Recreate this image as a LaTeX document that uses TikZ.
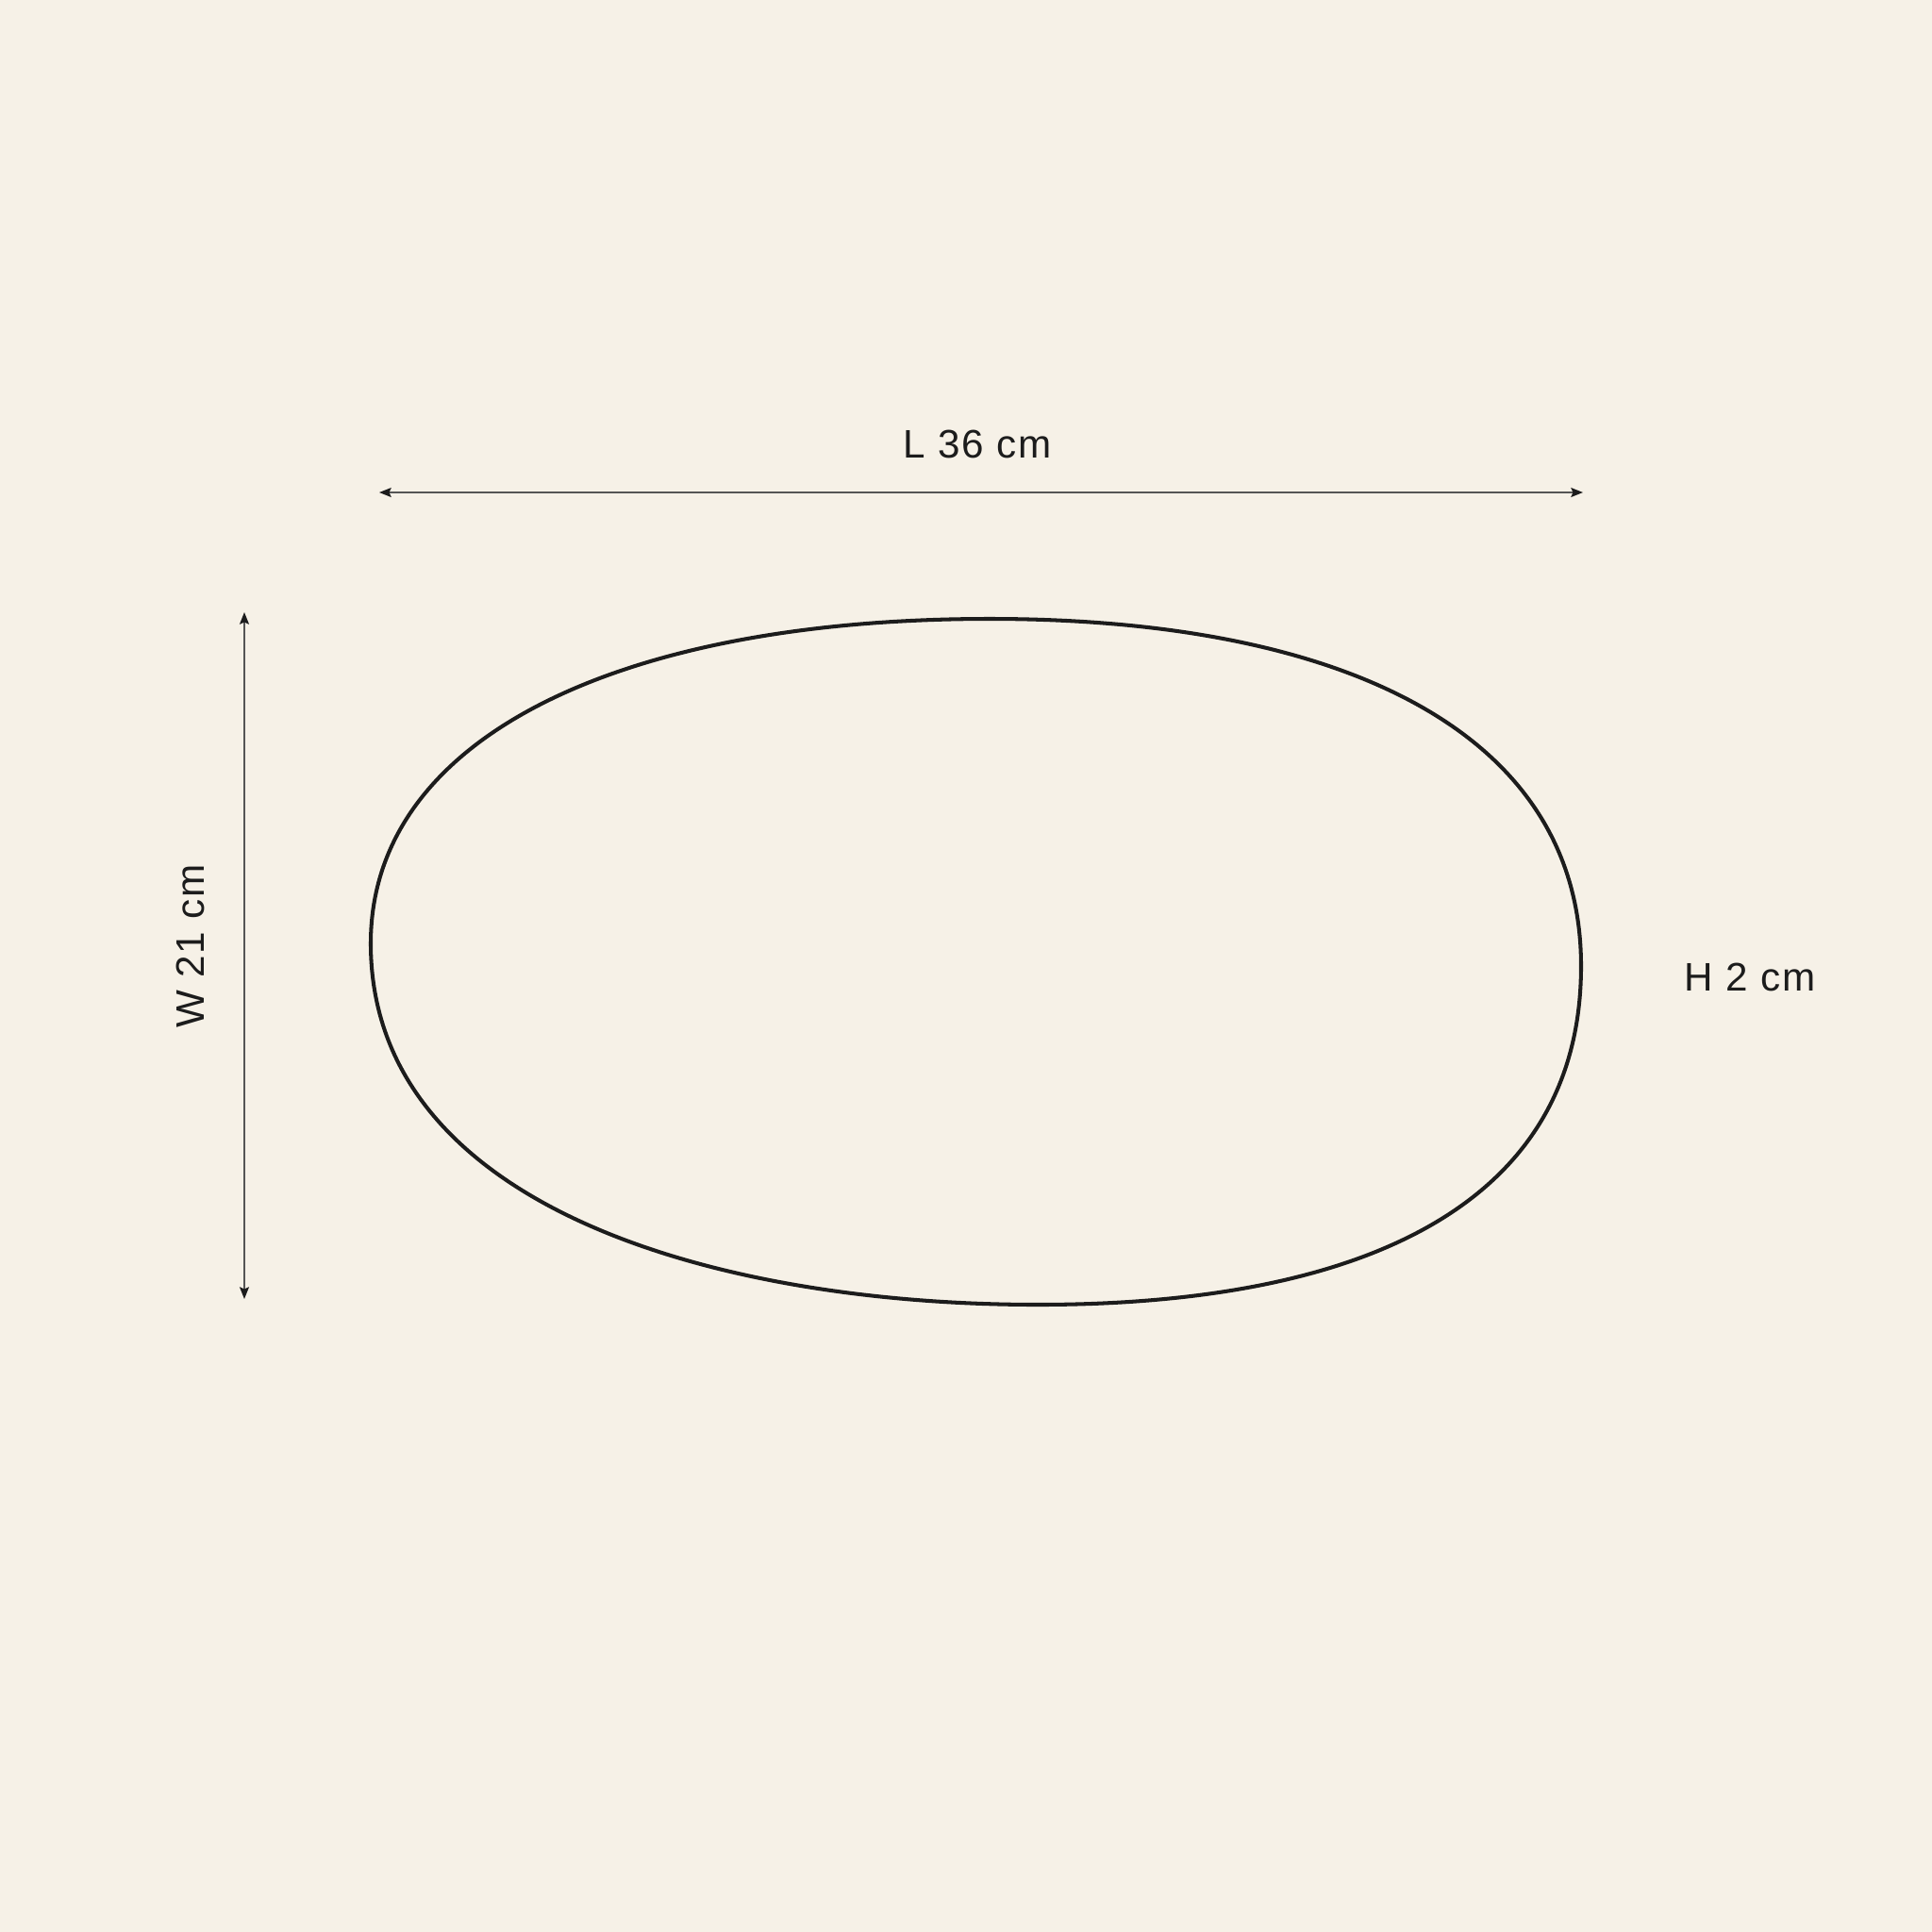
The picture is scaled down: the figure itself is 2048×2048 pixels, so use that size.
\documentclass[tikz,border=0pt]{standalone}
\usepackage{fontspec}
\setmainfont{Liberation Sans}[LetterSpace=4]
\usetikzlibrary{arrows.meta}
\definecolor{bgcream}{HTML}{F6F1E7}
\definecolor{inkdark}{HTML}{1C1C1C}
\definecolor{dimgray}{HTML}{555555}
\begin{document}
\begin{tikzpicture}[x=0.01cm,y=-0.01cm,
  dimline/.style={draw=dimgray,line width=0.55pt,{Stealth[length=3.6pt,width=2.8pt,inset=0.6pt,color=inkdark]}-{Stealth[length=3.6pt,width=2.8pt,inset=0.6pt,color=inkdark]}},
  dimlabel/.style={text=inkdark,font=\fontsize{12}{14}\selectfont,inner sep=0pt},
  outline/.style={draw=inkdark,line width=1.15pt}]
\fill[bgcream] (0,0) rectangle (2048,2048);
\useasboundingbox (0,0) rectangle (2048,2048);
% pebble outline
\coordinate (pTop) at (1049,656);
\coordinate (pRight) at (1676,1024);
\coordinate (pBottom) at (1100,1383);
\coordinate (pLeft) at (393,1000);
\draw[outline] (pTop)
  .. controls (1430,656) and (1676,780) .. (pRight)
  .. controls (1676,1280) and (1440,1383) .. (pBottom)
  .. controls (760,1383) and (393,1280) .. (pLeft)
  .. controls (393,780) and (660,656) .. (pTop) -- cycle;
% length
\coordinate (lA) at (402,522);
\coordinate (lB) at (1678,522);
\draw[dimline] (lA) -- (lB);
\node[dimlabel] (lenlabel) at (1036,471) {L 36 cm};
% width
\coordinate (wA) at (259,649);
\coordinate (wB) at (259,1377);
\draw[dimline] (wA) -- (wB);
\node[dimlabel,rotate=90] (widlabel) at (202,1003) {W 21 cm};
% height
\node[dimlabel] (hlabel) at (1855,1036) {H 2 cm};
\end{tikzpicture}
\end{document}
